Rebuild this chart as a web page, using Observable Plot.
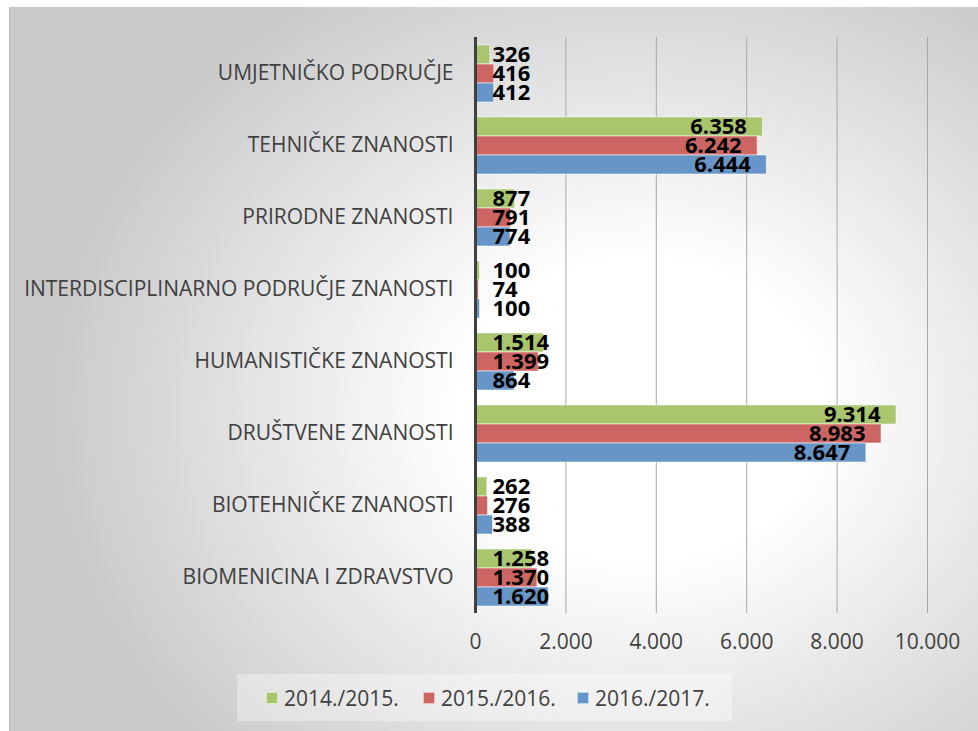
<!DOCTYPE html>
<html>
<head>
<meta charset="utf-8">
<script src="https://cdn.jsdelivr.net/npm/d3@7"></script>
<script src="https://cdn.jsdelivr.net/npm/@observablehq/plot@0.6"></script>
<style>
  html, body { margin: 0; padding: 0; background: #ffffff; width: 978px; height: 731px; overflow: hidden; font-family: "Open Sans", sans-serif; }
  #panel {
    position: absolute; left: 9px; top: 7px; width: 969px; height: 724px;
    background: radial-gradient(ellipse 600px 500px at 631px 403px, #ffffff 30%, #c9c9c9 100%);
    border-left: 1px solid #bdbdbd; box-sizing: border-box;
  }
  #chart { position: absolute; left: 0; top: 0; }
  #legend {
    position: absolute; left: 237px; top: 674px; width: 495px; height: 47px;
    background: rgba(255,255,255,0.35);
    font-family: "Open Sans", sans-serif; font-size: 21px; color: #404040;
  }
  .item { position: absolute; top: 0; height: 47px; display: flex; align-items: center; white-space: nowrap; }
  .sw { width: 12px; height: 12px; margin-right: 6px; box-sizing: border-box; border: 1px solid rgba(255,255,255,0.6); }
</style>
</head>
<body>
<div id="panel"></div>
<div id="chart"></div>
<div id="legend"></div>
<script>
const categories = [
  "UMJETNIČKO PODRUČJE",
  "TEHNIČKE ZNANOSTI",
  "PRIRODNE ZNANOSTI",
  "INTERDISCIPLINARNO PODRUČJE ZNANOSTI",
  "HUMANISTIČKE ZNANOSTI",
  "DRUŠTVENE ZNANOSTI",
  "BIOTEHNIČKE ZNANOSTI",
  "BIOMENICINA I ZDRAVSTVO"
];
const series = ["2014./2015.", "2015./2016.", "2016./2017."];
const values2014 = [326, 6358, 877, 100, 1514, 9314, 262, 1258];
const values2015 = [416, 6242, 791, 74, 1399, 8983, 276, 1370];
const values2016 = [412, 6444, 774, 100, 864, 8647, 388, 1620];
const xTicks = [0, 2000, 4000, 6000, 8000, 10000];
const colors = ["#a9c56d", "#cd6563", "#6895c8"];

const seriesValues = [values2014, values2015, values2016];
const rows = [];
categories.forEach((c, i) => {
  series.forEach((s, j) => rows.push({cat: c, series: s, value: seriesValues[j][i]}));
});

const loc = d3.formatLocale({decimal: ",", thousands: ".", grouping: [3], currency: ["", ""]});
const fmt = loc.format(",d");

const longRows = rows.filter(d => d.value >= 2000);
const shortRows = rows.filter(d => d.value < 2000);

const chart = Plot.plot({
  width: 978,
  height: 665,
  marginLeft: 475,
  marginRight: 51,
  marginTop: 36,
  marginBottom: 52,
  style: {background: "transparent", fontFamily: "Open Sans", fontSize: "21px", color: "#404040", overflow: "visible"},
  x: {domain: [0, 10000], ticks: xTicks, tickFormat: fmt, tickSize: 0, tickPadding: 21, label: null},
  fy: {domain: categories, padding: 0, axis: "left", tickSize: 0, tickPadding: 22, label: null},
  y: {domain: series, axis: null, paddingInner: 0, paddingOuter: 0.39},
  color: {domain: series, range: colors},
  marks: [
    Plot.gridX(xTicks, {stroke: "#a8a8a8", strokeOpacity: 1, strokeWidth: 1}),
    Plot.barX(rows, {fy: "cat", y: "series", x: "value", fill: "series", stroke: "#ffffff", strokeOpacity: 0.55, strokeWidth: 1}),
    Plot.ruleX([0], {stroke: "#404040", strokeWidth: 3}),
    Plot.text(longRows, {fy: "cat", y: "series", x: "value", text: d => fmt(d.value), textAnchor: "end", dx: -16, fontWeight: "bold", fill: "#000000", fontSize: 22}),
    Plot.text(shortRows, {fy: "cat", y: "series", x: () => 0, text: d => fmt(d.value), textAnchor: "start", dx: 17, fontWeight: "bold", fill: "#000000", fontSize: 22})
  ]
});
document.getElementById("chart").appendChild(chart);

const legend = document.getElementById("legend");
const legendLeft = [29, 186, 340];
series.forEach((s, j) => {
  const item = document.createElement("div");
  item.className = "item";
  item.style.left = legendLeft[j] + "px";
  const sw = document.createElement("span");
  sw.className = "sw";
  sw.style.background = colors[j];
  const t = document.createElement("span");
  t.textContent = s;
  item.appendChild(sw);
  item.appendChild(t);
  legend.appendChild(item);
});
</script>
</body>
</html>
